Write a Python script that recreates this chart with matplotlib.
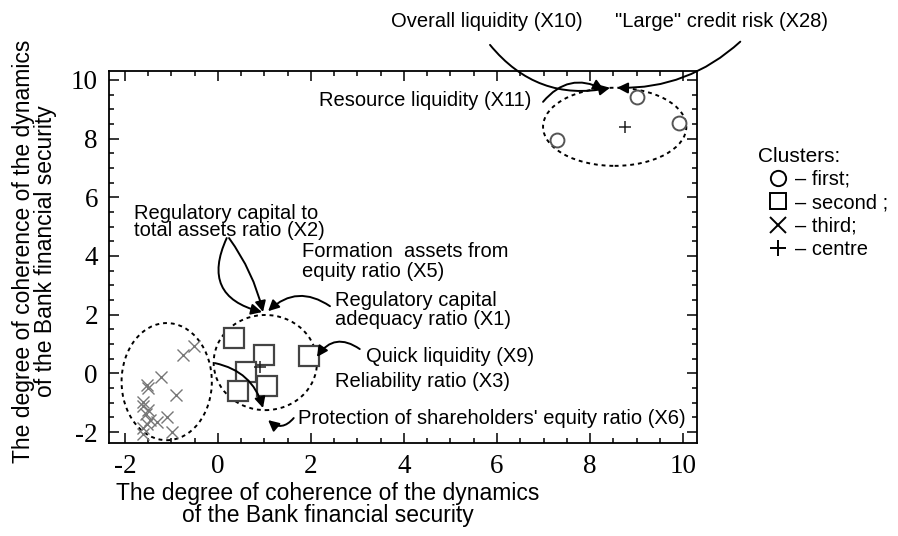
import numpy as np
import matplotlib.pyplot as plt
from matplotlib.patches import Ellipse
from matplotlib.lines import Line2D
from matplotlib.ticker import MultipleLocator

plt.rcParams['font.family'] = ['Liberation Sans', 'DejaVu Sans']

# cluster members
first_x = [7.30, 9.00, 9.92]
first_y = [7.95, 9.42, 8.53]

second_x = [0.34, 0.99, 1.96, 0.60, 0.43, 1.05]
second_y = [1.20, 0.62, 0.59, 0.04, -0.60, -0.43]

third_x = [-0.52, -0.75, -1.23, -1.52, -1.50, -0.90, -1.60, -1.62, -1.50,
           -1.55, -1.10, -1.30, -1.52, -1.60, -0.98, -1.62, -1.45]
third_y = [0.95, 0.62, -0.13, -0.38, -0.48, -0.72, -0.98, -1.12, -1.25,
           -1.38, -1.50, -1.65, -1.72, -1.85, -2.00, -2.05, -1.60]

centre_x = [8.75, 0.90]
centre_y = [8.40, 0.21]

# dotted cluster outlines: centre, width, height
ell_x = [8.53, 1.02, -1.10]
ell_y = [8.40, 0.37, -0.28]
ell_w = [3.08, 2.22, 1.94]
ell_h = [2.66, 3.24, 3.99]

ticks = [-2, 0, 2, 4, 6, 8, 10]
tick_labels = ['-2', '0', '2', '4', '6', '8', '10']

fig = plt.figure(figsize=(8.98, 5.36), dpi=100)
ax = fig.add_axes([0.1214, 0.1735, 0.6548, 0.694])

ax.plot(third_x, third_y, 'x', color='#777777', ms=9, mew=1.0, ls='none')
ax.plot(second_x, second_y, 's', mfc='white', mec='#444444', ms=14.5, mew=1.6, ls='none')
ax.plot(first_x, first_y, 'o', mfc='white', mec='#555555', ms=10, mew=1.4, ls='none')
ax.plot(centre_x, centre_y, '+', color='#222222', ms=9, mew=1.1, ls='none')

for cx, cy, w, h in zip(ell_x, ell_y, ell_w, ell_h):
    ax.add_patch(Ellipse((cx, cy), w, h, fill=False, ec='black', lw=1.4,
                         ls=(0, (2, 2))))

ax.set_xlim(-2.34, 10.3)
ax.set_ylim(-2.37, 10.3)
ax.set_xticks(ticks)
ax.set_xticklabels(tick_labels, family='Liberation Serif', fontsize=19.5)
ax.set_yticks(ticks)
ax.set_yticklabels(tick_labels, family='Liberation Serif', fontsize=19.5)
ax.xaxis.set_minor_locator(MultipleLocator(0.5))
ax.yaxis.set_minor_locator(MultipleLocator(0.5))
ax.tick_params(which='both', direction='in', top=True, right=True, width=1.1)
ax.tick_params(which='major', length=7, pad=8)
ax.tick_params(which='minor', length=3.5)
for s in ax.spines.values():
    s.set_linewidth(1.3)

ax.set_xlabel('The degree of coherence of the dynamics\nof the Bank financial security',
              fontsize=16.5, linespacing=0.95)
ax.xaxis.set_label_coords(0.372, -0.105)
ax.set_ylabel('The degree of coherence of the dynamics\nof the Bank financial security',
              fontsize=16.5, linespacing=0.95)
ax.yaxis.set_label_coords(-0.088, 0.515)

# labels
fs = 14.5
ax.text(5.78, 11.98, 'Overall liquidity (X10)', ha='center', va='center', fontsize=fs, clip_on=False)
ax.text(10.82, 11.98, '"Large" credit risk (X28)', ha='center', va='center', fontsize=fs, clip_on=False)
ax.text(2.17, 9.28, 'Resource liquidity (X11)', ha='left', va='center', fontsize=fs)
ax.text(-1.81, 5.16, 'Regulatory capital to\ntotal assets ratio (X2)', ha='left', va='center',
        fontsize=fs, linespacing=0.85)
ax.text(1.81, 3.80, 'Formation  assets from\nequity ratio (X5)', ha='left', va='center',
        fontsize=fs, linespacing=1.05)
ax.text(2.52, 2.16, 'Regulatory capital\nadequacy ratio (X1)', ha='left', va='center',
        fontsize=fs, linespacing=1.05)
ax.text(3.18, 0.59, 'Quick liquidity (X9)', ha='left', va='center', fontsize=fs)
ax.text(2.52, -0.26, 'Reliability ratio (X3)', ha='left', va='center', fontsize=fs)
ax.text(1.72, -1.52, "Protection of shareholders' equity ratio (X6)", ha='left', va='center', fontsize=fs)

# arrows: start, tip, curvature
arr_start = [(5.85, 11.19), (11.23, 11.30), (6.99, 9.25), (0.19, 4.61), (0.24, 4.61),
             (2.41, 2.29), (3.05, 0.83), (-0.06, 0.35), (1.63, -1.52)]
arr_tip = [(8.43, 9.73), (8.58, 9.73), (8.30, 9.66), (0.95, 2.09), (0.97, 2.09),
           (1.08, 2.12), (2.13, 0.56), (0.97, -1.18), (1.08, -1.59)]
arr_rad = [0.3, -0.2, -0.4, 0.6, -0.1, 0.4, 0.5, -0.3, -0.5]
for st, tp, r in zip(arr_start, arr_tip, arr_rad):
    ax.annotate('', xy=tp, xytext=st, annotation_clip=False,
                arrowprops=dict(arrowstyle='-|>', color='black', lw=1.4,
                                mutation_scale=16, shrinkA=0, shrinkB=0,
                                connectionstyle='arc3,rad=%s' % r))

# legend
ax.text(1.104, 0.769, 'Clusters:', transform=ax.transAxes, ha='left', va='center', fontsize=15)
handles = [Line2D([], [], marker='o', ls='none', mfc='white', mec='black', ms=11, mew=1.4),
           Line2D([], [], marker='s', ls='none', mfc='white', mec='black', ms=11, mew=1.4),
           Line2D([], [], marker='x', ls='none', color='black', ms=11, mew=1.4),
           Line2D([], [], marker='+', ls='none', color='black', ms=12, mew=1.4)]
labels = ['\u2013 first;', '\u2013 second ;', '\u2013 third;', '\u2013 centre']
ax.legend(handles, labels, loc='upper left', bbox_to_anchor=(1.121, 0.734), frameon=False,
          fontsize=14.5, handlelength=1.0, handletextpad=0.35, labelspacing=0.22,
          borderpad=0, borderaxespad=0)

fig.savefig('out.png', dpi=100)
